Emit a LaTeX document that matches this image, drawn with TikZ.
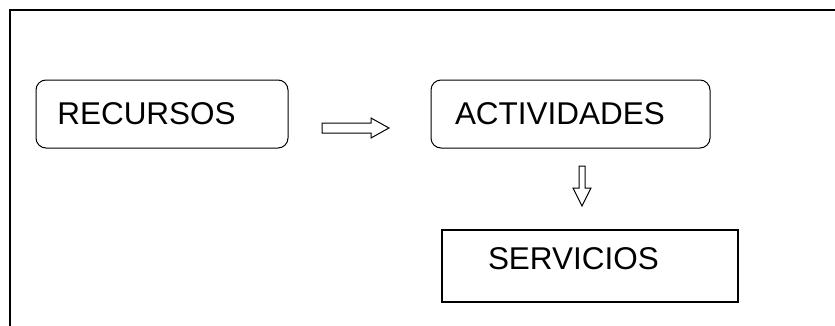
\documentclass[tikz,border=0pt]{standalone}
\usepackage{fontspec}
\setmainfont{Liberation Sans}
\usetikzlibrary{calc}

\tikzset{
  caja/.style={draw, line width=0.75pt, rounded corners=7.5pt, inner ysep=0pt,
    minimum height=51pt, align=left, font=\fontsize{23.6}{28}\selectfont},
  cajarecta/.style={caja, rounded corners=0pt, line width=1.1pt, minimum height=54pt},
  flecha/.style={draw, line width=0.75pt, line join=miter}
}

\begin{document}
\begin{tikzpicture}[x=0.75pt, y=-0.75pt]
    \useasboundingbox (0,0) rectangle (835,325);

    % Marco
    \draw[line width=1.5pt] (10,326) -- (10,10) -- (836,10);

    % Cajas
    \node[caja, inner xsep=16pt, text width=157pt] (recursos) at (162,114) {RECURSOS};
    \node[caja, inner xsep=18pt, text width=173.25pt] (actividades) at (570.5,114) {ACTIVIDADES};
    \node[cajarecta, inner xsep=34.5pt, text width=153pt, text height=16.5pt, text depth=12pt] (servicios) at (590,266) {SERVICIOS};

    % Flechas
    \coordinate (fd) at (322,127.5);
    \draw[flecha] (fd) ++(0,-4.5) -- ++(49,0) -- ++(0,-5) -- ++(18,10) -- ++(-18,10) -- ++(0,-5) -- ++(-49,0) -- cycle;
    \coordinate (fa) at (582,166);
    \draw[flecha] (fa) ++(-3,0) -- ++(6,0) -- ++(0,22) -- ++(6,0) -- ++(-9,18) -- ++(-9,-18) -- ++(6,0) -- cycle;
\end{tikzpicture}
\end{document}
